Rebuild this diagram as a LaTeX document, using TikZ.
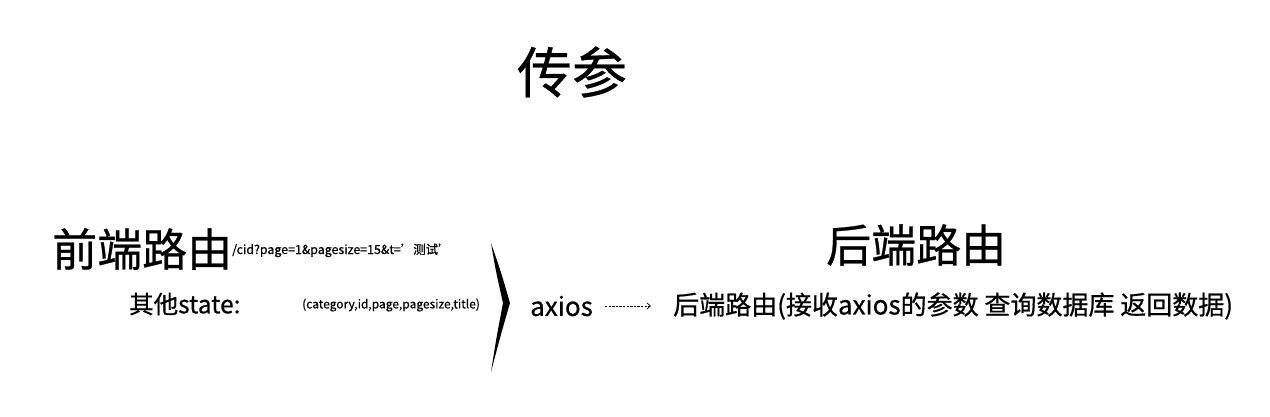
\documentclass[tikz,border=0pt]{standalone}
\usepackage{fontspec}
\setmainfont{Noto Sans CJK SC}[FakeBold=0.6]
\usetikzlibrary{arrows.meta}
\begin{document}
\begin{tikzpicture}[x=1pt,y=-1pt,
  lbl/.style={inner sep=0pt,anchor=west,text=black},
  flow/.style={draw=black,line width=0.8pt,dash pattern=on 2.4pt off 1.2pt,-{Straight Barb[length=3.5pt,width=6pt,line width=0.7pt]}}]
\useasboundingbox[fill=white] (0,0) rectangle (1270,417);
\node[inner sep=0pt] (title) at (572,72) {\fontsize{55}{60}\selectfont 传参};
\node[lbl] (front) at (52,249) {\fontsize{45}{50}\selectfont 前端路由};
\node[lbl,anchor=base west] (query) at (232,254) {\fontsize{12.4}{15}\selectfont /cid?page=1\&pagesize=15\&t=’测试’};
\node[lbl] (state) at (129,304) {\fontsize{24.5}{28}\selectfont 其他state:};
\node[lbl] (params) at (302,305) {\fontsize{12}{14}\selectfont (category,id,page,pagesize,title)};
\fill[black] (491,243) .. controls (501,272) .. (510,303) .. controls (501,334) .. (491,372) .. controls (496,340) .. (503,303) .. controls (496,272) .. cycle;
\node[lbl] (axios) at (530,306) {\fontsize{26}{30}\selectfont axios};
\node[lbl] (backtitle) at (826,245) {\fontsize{45}{50}\selectfont 后端路由};
\node[lbl] (back) at (673,306) {\fontsize{26}{29}\selectfont 后端路由(接收axios的参数 查询数据库 返回数据)};
\draw[flow,shorten <=12pt,shorten >=22pt] (axios.east) -- (back.west);
\end{tikzpicture}
\end{document}
